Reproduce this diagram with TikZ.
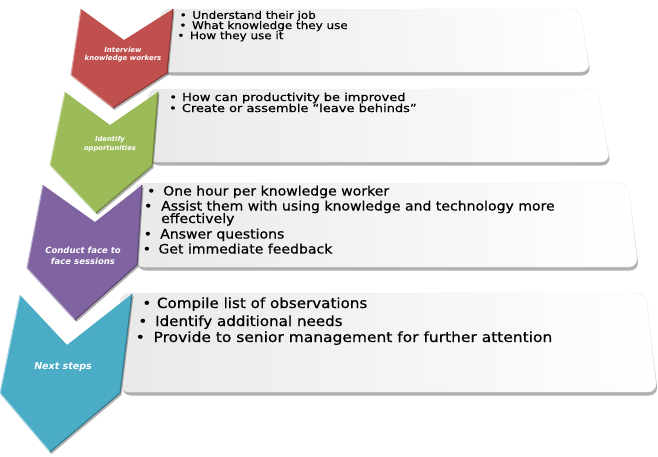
\documentclass[tikz,border=0pt]{standalone}
\usepackage{fontspec}
\setmainfont{DejaVu Sans}
\newfontfamily\boxfont{DejaVu Sans}[FakeBold=0.5]
\definecolor{cred}{HTML}{C0504D}
\definecolor{cgreen}{HTML}{9BBB59}
\definecolor{cpurple}{HTML}{8064A2}
\definecolor{cteal}{HTML}{4BACC6}
\newcommand\blt[3]{\scalebox{#1}[1]{\makebox[#2][l]{•}#3}}
\newcommand\plainln[2]{\scalebox{#1}[1]{#2}}
\tikzset{
  slab/.style={left color=gray!17, right color=white, draw=gray!14, line width=0.4pt, rounded corners=9pt},
  slabshadow/.style={fill=gray!62, rounded corners=9pt},
  chevshadow/.style={fill=black, opacity=0.30},
  bevel/.style={line width=1.1pt, line join=round},
  lbl/.style={text=white, align=center, inner sep=0pt, font=\bfseries\itshape},
  ln/.style={anchor=base west, inner sep=0pt, text=black},
  lnA/.style={ln, font=\boxfont\fontsize{10.5}{10.5}\selectfont},
  lnB/.style={ln, font=\boxfont\fontsize{11}{11}\selectfont},
  lnC/.style={ln, font=\boxfont\fontsize{13}{13}\selectfont},
  lnD/.style={ln, font=\boxfont\fontsize{14}{14}\selectfont},
}
\begin{document}
\begin{tikzpicture}[x=1pt,y=-1pt]
\useasboundingbox (0,0) rectangle (658,456);
% ---------- boxes ----------
\fill[slabshadow] (162,12) -- (580,12) -- (591,75.5) -- (162,75.5) -- cycle;
\path[slab] (160,9) -- (580,9) -- (590,72) -- (160,72) -- cycle;
\fill[slabshadow] (150,92) -- (597,92) -- (611,165.5) -- (150,165.5) -- cycle;
\path[slab] (148,89) -- (597,89) -- (610,162) -- (148,162) -- cycle;
\fill[slabshadow] (137,186) -- (628,186) -- (639,270.5) -- (137,270.5) -- cycle;
\path[slab] (135,183) -- (628,183) -- (638,267) -- (135,267) -- cycle;
\fill[slabshadow] (122,296) -- (646,296) -- (658,395.5) -- (122,395.5) -- cycle;
\path[slab] (120,293) -- (646,293) -- (657,392) -- (120,392) -- cycle;
% ---------- chevrons ----------
% red
\fill[chevshadow] (82.5,11) -- (125.5,42) -- (174.5,11) -- (168.5,75) -- (114.5,110) -- (72.5,77) -- cycle;
\path[fill=cred] (81,9) -- (124,40) -- (173,9) -- (167,73) -- (113,108) -- (71,75) -- cycle;
\draw[bevel, cred!55!white] (81,9) -- (71,75) -- (113,108);
\draw[bevel, cred!70!black] (113,108) -- (167,73) -- (173,9);
% green
\fill[chevshadow] (66.5,94) -- (111.5,127) -- (159.5,94) -- (153.5,168) -- (97.5,215) -- (51.5,167) -- cycle;
\path[fill=cgreen] (65,92) -- (110,125) -- (158,92) -- (152,166) -- (96,213) -- (50,165) -- cycle;
\draw[bevel, cgreen!55!white] (65,92) -- (50,165) -- (96,213);
\draw[bevel, cgreen!70!black] (96,213) -- (152,166) -- (158,92);
% purple
\fill[chevshadow] (44.5,187) -- (96.5,224) -- (143.5,187) -- (138.5,267) -- (76.5,322) -- (28.5,270) -- cycle;
\path[fill=cpurple] (43,185) -- (95,222) -- (142,185) -- (137,265) -- (75,320) -- (27,268) -- cycle;
\draw[bevel, cpurple!55!white] (43,185) -- (27,268) -- (75,320);
\draw[bevel, cpurple!70!black] (75,320) -- (137,265) -- (142,185);
% teal
\fill[chevshadow] (21.5,297) -- (68.5,347) -- (133.5,296) -- (121.5,395) -- (51.5,454) -- (1.5,395) -- cycle;
\path[fill=cteal] (20,295) -- (67,345) -- (132,294) -- (120,393) -- (50,452) -- (0,393) -- cycle;
\draw[bevel, cteal!45!white] (20,295) -- (0,393) -- (50,452);
\draw[bevel, cteal!70!black] (50,452) -- (120,393) -- (132,294);
% ---------- chevron labels ----------
\node[lbl, font=\fontsize{7}{8}\selectfont\bfseries\itshape] (l1) at (123,54.5) {Interview\\knowledge workers};
\node[lbl, font=\fontsize{6.8}{8.5}\selectfont\bfseries\itshape] (l2) at (110,144) {Identify\\opportunities};
\node[lbl, font=\fontsize{8.5}{11}\selectfont\bfseries\itshape] (l3) at (83,255.5) {Conduct face to\\face sessions};
\node[lbl, font=\fontsize{9.5}{11}\selectfont\bfseries\itshape] (l4) at (63,367) {Next steps};
% ---------- box texts ----------
\node[lnA] (a1) at (179.5,18.8) {\blt{1.14}{11.1pt}{Understand their job}};
\node[lnA] (a2) at (179.2,29) {\blt{1.14}{11.1pt}{What knowledge they use}};
\node[lnA] (a3) at (177.2,39.2) {\blt{1.14}{11.1pt}{How they use it}};
\node[lnB] (b1) at (169.2,101) {\blt{1.18}{10.8pt}{How can productivity be improved}};
\node[lnB] (b2) at (168.9,112) {\blt{1.18}{10.8pt}{Create or assemble “leave behinds”}};
\node[lnC] (c1) at (146.9,195.5) {\blt{1.08}{14.9pt}{One hour per knowledge worker}};
\node[lnC] (c2) at (143.9,210.5) {\blt{1.08}{15.8pt}{Assist them with using knowledge and technology more}};
\node[lnC] (c3) at (161,223) {\plainln{1.08}{effectively}};
\node[lnC] (c4) at (143.5,238.5) {\blt{1.08}{15.3pt}{Answer questions}};
\node[lnC] (c5) at (142.5,253.5) {\blt{1.08}{14.6pt}{Get immediate feedback}};
\node[lnD] (d1) at (142.2,308) {\blt{1.08}{13.5pt}{Compile list of observations}};
\node[lnD] (d2) at (138.2,326) {\blt{1.08}{15.5pt}{Identify additional needs}};
\node[lnD] (d3) at (135.5,342) {\blt{1.105}{16.2pt}{Provide to senior management for further attention}};
\end{tikzpicture}
\end{document}
